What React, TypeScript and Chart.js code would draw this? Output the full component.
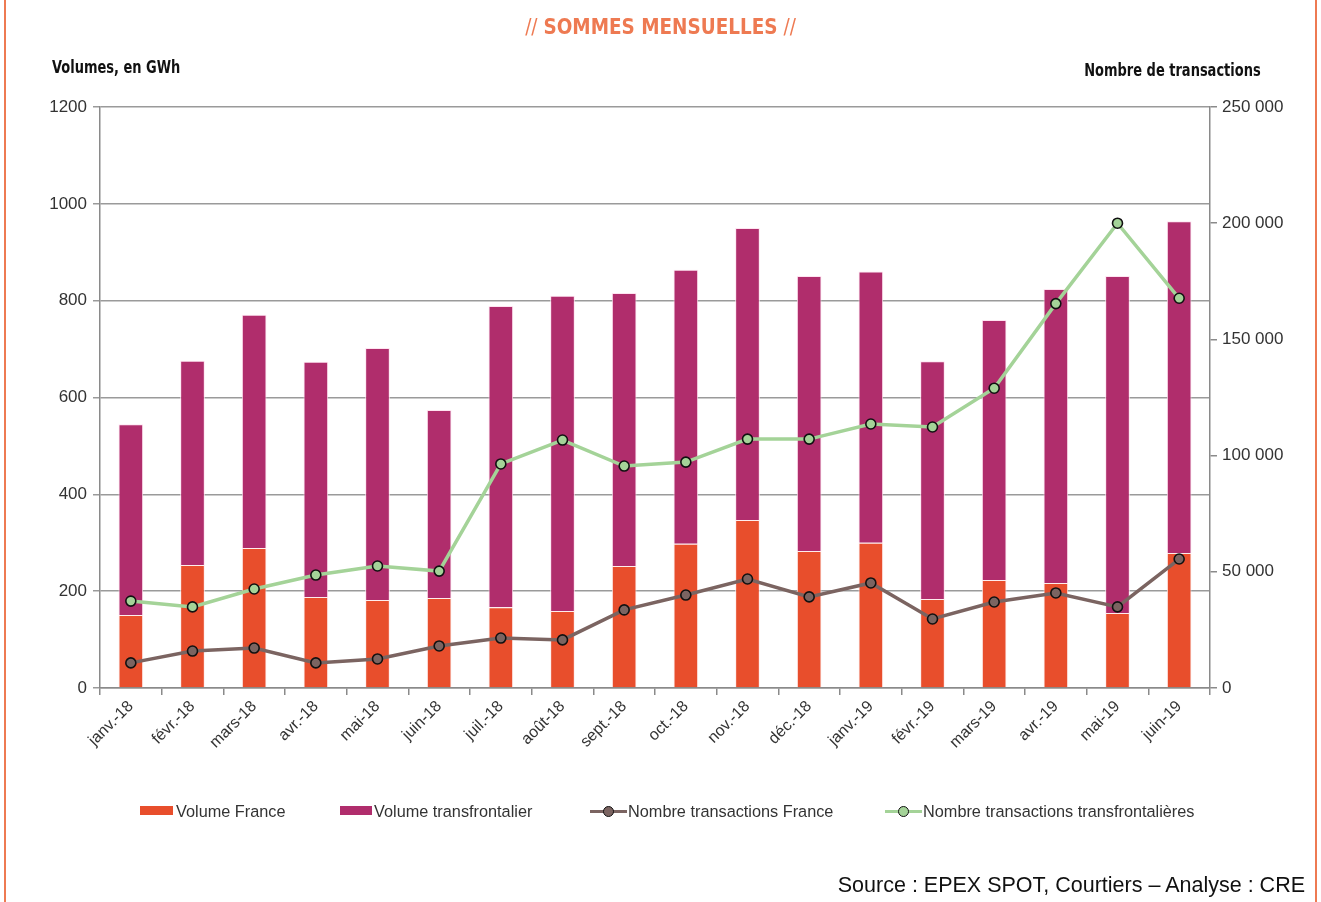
import React, { useEffect, useRef } from "react";
import { Chart, registerables } from "chart.js";

Chart.register(...registerables);

const months = [
  "janv.-18", "févr.-18", "mars-18", "avr.-18", "mai-18", "juin-18",
  "juil.-18", "août-18", "sept.-18", "oct.-18", "nov.-18", "déc.-18",
  "janv.-19", "févr.-19", "mars-19", "avr.-19", "mai-19", "juin-19",
];
const volumeFrance = [151, 254, 289, 188, 182, 186, 167, 159, 252, 298, 347, 283, 300, 184, 223, 217, 155, 279];
const volumeTransfrontalier = [394, 422, 482, 486, 520, 388, 622, 651, 564, 566, 603, 568, 560, 491, 537, 607, 696, 685];
const transactionsFrance = [10800, 15900, 17200, 10800, 12500, 18100, 21500, 20700, 33600, 40000, 46900, 39200, 45200, 29700, 37000, 40900, 34900, 55500];
const transactionsTransfrontalieres = [37400, 34900, 42600, 48600, 52500, 50300, 96400, 106700, 95500, 97200, 107100, 107100, 113600, 112300, 129000, 165400, 200000, 167700];

const leftMax = 1200;
const leftStep = 200;
const rightMax = 250000;
const rightStep = 50000;

const labels = {
  title: "SOMMES MENSUELLES",
  leftTitle: "Volumes, en GWh",
  rightTitle: "Nombre de transactions",
  source: "Source : EPEX SPOT, Courtiers – Analyse : CRE",
  series: ["Volume France", "Volume transfrontalier", "Nombre transactions France", "Nombre transactions transfrontalières"],
};

const C_FR = "#E84E2C";
const C_TR = "#B02D6C";
const C_LFR = "#7B6461";
const C_LTR = "#A4D398";
const ORANGE = "#EE7A52";
const GRID = "#9a9a9a";
const AXIS = "#8a8a8a";

const FONT = "'Liberation Sans', Arial, sans-serif";
const NARROW = "'Liberation Sans Narrow', 'DejaVu Sans Condensed', 'Liberation Sans', sans-serif";

function fmt(v: number) {
  return String(v).replace(/\B(?=(\d{3})+(?!\d))/g, " ");
}

export default function App() {
  const ref = useRef<HTMLCanvasElement | null>(null);

  useEffect(() => {
    if (!ref.current) return;
    const pointOpts = {
      borderWidth: 3.5,
      pointRadius: 5,
      pointBorderColor: "#111",
      pointBorderWidth: 1.6,
      tension: 0,
      order: 0,
    };
    const barOpts = {
      borderWidth: 1,
      barPercentage: 0.4,
      categoryPercentage: 1,
      order: 1,
    };
    const chart = new Chart(ref.current, {
      type: "bar",
      data: {
        labels: months,
        datasets: [
          {
            type: "line",
            label: labels.series[2],
            data: transactionsFrance,
            yAxisID: "y1",
            borderColor: C_LFR,
            backgroundColor: C_LFR,
            pointBackgroundColor: C_LFR,
            ...pointOpts,
          },
          {
            type: "line",
            label: labels.series[3],
            data: transactionsTransfrontalieres,
            yAxisID: "y1",
            borderColor: C_LTR,
            backgroundColor: C_LTR,
            pointBackgroundColor: C_LTR,
            ...pointOpts,
          },
          {
            type: "bar",
            label: labels.series[0],
            data: volumeFrance,
            yAxisID: "y",
            backgroundColor: C_FR,
            borderColor: "rgba(255,235,235,0.9)",
            ...barOpts,
          },
          {
            type: "bar",
            label: labels.series[1],
            data: volumeTransfrontalier,
            yAxisID: "y",
            backgroundColor: C_TR,
            borderColor: "rgba(255,225,240,0.9)",
            ...barOpts,
          },
        ] as any,
      },
      options: {
        animation: false,
        responsive: false,
        maintainAspectRatio: false,
        layout: { padding: { top: 107, left: 0, right: 0, bottom: 0 } },
        plugins: {
          legend: { display: false },
          title: { display: false },
          tooltip: { enabled: false },
        },
        scales: {
          x: {
            stacked: true,
            grid: { drawOnChartArea: false, drawTicks: true, tickLength: 7, color: AXIS, lineWidth: 1.5 },
            border: { color: AXIS, width: 1.5 },
            ticks: {
              autoSkip: false,
              minRotation: 45,
              maxRotation: 45,
              color: "#333",
              font: { family: FONT, size: 16 },
              padding: 2,
            },
            afterFit: (s: any) => {
              s.height = 214;
            },
          },
          y: {
            position: "left",
            stacked: true,
            min: 0,
            max: leftMax,
            ticks: {
              stepSize: leftStep,
              color: "#333",
              font: { family: FONT, size: 17 },
              padding: 6,
              callback: (v: any) => String(v),
            },
            grid: { color: GRID, lineWidth: 1.5, tickLength: 7 },
            border: { color: AXIS, width: 1.5 },
            afterFit: (s: any) => {
              s.width = 100;
            },
          },
          y1: {
            position: "right",
            min: 0,
            max: rightMax,
            ticks: {
              stepSize: rightStep,
              color: "#333",
              font: { family: FONT, size: 17 },
              padding: 5,
              callback: (v: any) => fmt(Number(v)),
            },
            grid: { drawOnChartArea: false, color: AXIS, lineWidth: 1.5, tickLength: 7 },
            border: { color: AXIS, width: 1.5 },
            afterFit: (s: any) => {
              s.width = 111;
            },
          },
        },
      } as any,
    });
    return () => chart.destroy();
  }, []);

  const legendText: React.CSSProperties = {
    position: "absolute",
    top: 801,
    fontFamily: FONT,
    fontSize: 16.3,
    color: "#333",
    lineHeight: "20px",
    whiteSpace: "nowrap",
  };

  const lineMarker = (x: number, color: string) => (
    <div style={{ position: "absolute", left: x, top: 805, width: 37, height: 12 }}>
      <div style={{ position: "absolute", left: 0, top: 4.5, width: 37, height: 3.5, background: color }} />
      <div
        style={{
          position: "absolute",
          left: 12.5,
          top: 0.5,
          width: 9,
          height: 9,
          borderRadius: "50%",
          background: color,
          border: "1.6px solid #111",
        }}
      />
    </div>
  );

  const axisTitle: React.CSSProperties = {
    position: "absolute",
    fontFamily: NARROW,
    fontWeight: 700,
    fontSize: 17,
    lineHeight: "20px",
    color: "#111",
    whiteSpace: "nowrap",
    transform: "scaleX(0.85)",
  };

  return (
    <div style={{ position: "absolute", left: 0, top: 0, width: 1321, height: 902, background: "#fff", overflow: "hidden" }}>
      <canvas ref={ref} width={1321} height={902} style={{ position: "absolute", left: 0, top: 0 }} />
      <div style={{ position: "absolute", left: 4, top: 0, width: 2, height: 902, background: ORANGE }} />
      <div style={{ position: "absolute", left: 1315, top: 0, width: 2, height: 902, background: ORANGE }} />
      <div
        style={{
          position: "absolute",
          left: 0,
          width: 1321,
          top: 14,
          textAlign: "center",
          color: ORANGE,
          fontFamily: NARROW,
          fontSize: 22,
          lineHeight: "26px",
          whiteSpace: "nowrap",
          transform: "scaleX(0.93)",
        }}
      >
        <span style={{ fontWeight: 300 }}>//</span>{" "}
        <span style={{ fontWeight: 700 }}>{labels.title}</span>{" "}
        <span style={{ fontWeight: 300 }}>//</span>
      </div>
      <div style={{ ...axisTitle, left: 52, top: 57, transformOrigin: "left center" }}>{labels.leftTitle}</div>
      <div style={{ ...axisTitle, right: 1321 - 1261, top: 60, transformOrigin: "right center" }}>{labels.rightTitle}</div>

      <div style={{ position: "absolute", left: 140, top: 806, width: 33, height: 9, background: C_FR }} />
      <div style={{ ...legendText, left: 176 }}>{labels.series[0]}</div>
      <div style={{ position: "absolute", left: 340, top: 806, width: 32, height: 9, background: C_TR }} />
      <div style={{ ...legendText, left: 374 }}>{labels.series[1]}</div>
      {lineMarker(590, C_LFR)}
      <div style={{ ...legendText, left: 628 }}>{labels.series[2]}</div>
      {lineMarker(885, C_LTR)}
      <div style={{ ...legendText, left: 923 }}>{labels.series[3]}</div>

      <div
        style={{
          position: "absolute",
          right: 1321 - 1305,
          top: 872,
          fontFamily: FONT,
          fontSize: 21.5,
          lineHeight: "26px",
          color: "#111",
          whiteSpace: "nowrap",
        }}
      >
        {labels.source}
      </div>
    </div>
  );
}
